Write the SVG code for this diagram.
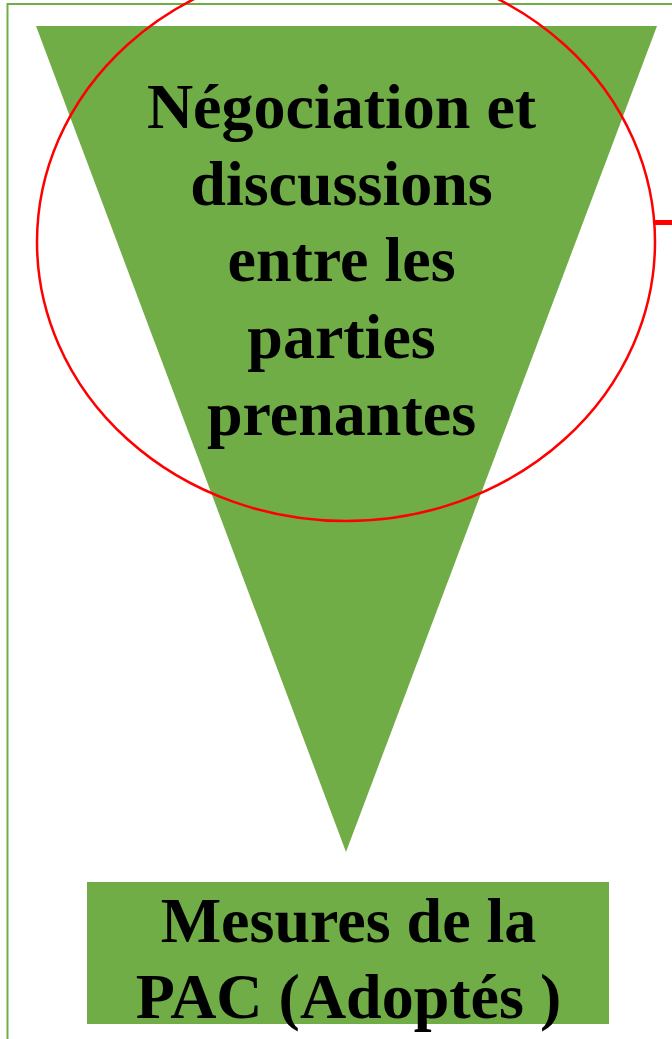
<svg xmlns="http://www.w3.org/2000/svg" width="672" height="1039" viewBox="0 0 672 1039">
<style>
.fill{fill:#70ad47}
.t{font-family:"Liberation Serif",serif;font-weight:bold;font-size:64px;fill:#000;text-anchor:middle}
</style>
<rect width="672" height="1039" fill="#fff"/>
<g id="frame"><path d="M7.5,1039 V4 H672" fill="none" stroke="#70ad47" stroke-width="2"/></g>
<g id="funnel">
<polygon class="fill" points="36,26 657,26 346,852"/>
<text class="t" x="341.5" y="128">Négociation et</text>
<text class="t" x="341.5" y="205">discussions</text>
<text class="t" x="341.5" y="281">entre les</text>
<text class="t" x="341.5" y="358">parties</text>
<text class="t" x="341.5" y="435">prenantes</text>
</g>
<g id="highlight"><ellipse cx="346" cy="242" rx="309" ry="279" fill="none" stroke="#f00" stroke-width="2.5"/></g>
<g id="connectors"><line x1="654" y1="222.5" x2="672" y2="222.5" stroke="#f00" stroke-width="5"/></g>
<g id="result">
<rect class="fill" x="87" y="882" width="522" height="142"/>
<text class="t" x="348.5" y="942">Mesures de la</text>
<text class="t" x="348.5" y="1018">PAC (Adoptés )</text>
</g>
</svg>
